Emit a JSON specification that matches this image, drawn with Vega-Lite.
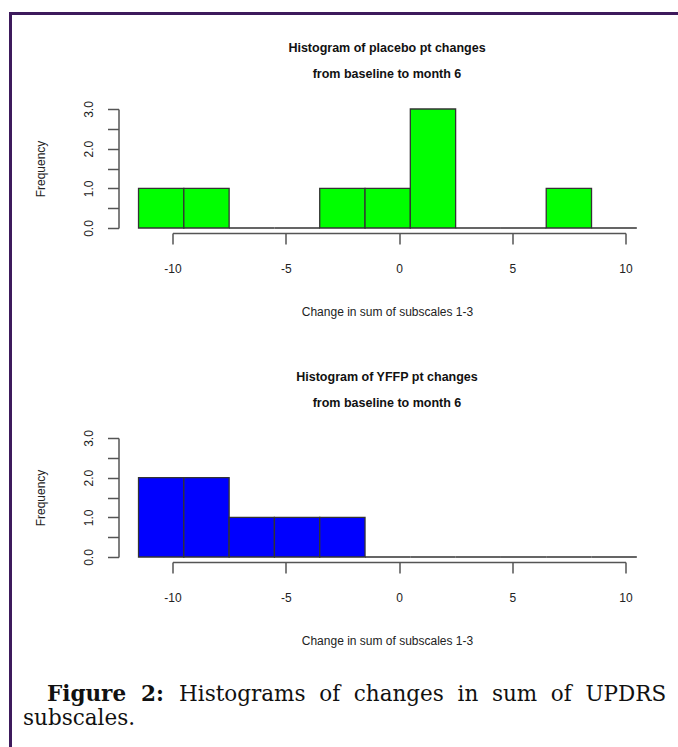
{
  "$schema": "https://vega.github.io/schema/vega-lite/v6.json",
  "background": "white",
  "padding": {"left": 7, "top": 10, "right": 0, "bottom": 0},
  "bounds": "flush",
  "spacing": 0,
  "config": {
    "view": {"stroke": null},
    "font": "Liberation Sans",
    "axis": {
      "grid": false,
      "domainColor": "#555555",
      "tickColor": "#555555",
      "domainWidth": 1.5,
      "tickWidth": 1.5,
      "tickSize": 11,
      "labelFont": "Liberation Sans",
      "labelFontSize": 12,
      "labelColor": "#222222",
      "labelFlush": false,
      "labelOverlap": false,
      "titleFont": "Liberation Sans",
      "titleFontSize": 12,
      "titleFontWeight": "normal",
      "titleColor": "#222222"
    },
    "title": {
      "font": "Liberation Sans",
      "fontSize": 12.5,
      "fontWeight": "bold",
      "color": "#111111",
      "lineHeight": 26,
      "anchor": "middle",
      "baseline": "bottom",
      "offset": 20
    }
  },
  "vconcat": [
    {
      "width": 671,
      "height": 3,
      "view": {"fill": "#3d1a5c", "stroke": null},
      "data": {"values": [{}]},
      "mark": {"type": "point", "opacity": 0},
      "encoding": {}
    },
    {
      "bounds": "flush",
      "spacing": 160.5,
      "hconcat": [
        {
          "width": 3,
          "height": 734,
          "view": {"fill": "#3d1a5c", "stroke": null},
          "data": {"values": [{}]},
          "mark": {"type": "point", "opacity": 0},
          "encoding": {}
        },
        {
          "bounds": "flush",
          "spacing": 0,
          "vconcat": [
            {
              "width": 453,
              "height": 94,
              "data": {"values": [{}]},
              "mark": {"type": "point", "opacity": 0},
              "encoding": {}
            },
            {
              "bounds": "flush",
              "spacing": 210,
              "vconcat": [
                {
                  "width": 453,
                  "height": 119,
                  "title": {"text": ["Histogram of placebo pt changes", "from baseline to month 6"], "dx": -12},
                  "data": {"values": [
                    {"bin_start": -11.5, "bin_end": -9.5, "count": 1},
                    {"bin_start": -9.5, "bin_end": -7.5, "count": 1},
                    {"bin_start": -7.5, "bin_end": -5.5, "count": 0},
                    {"bin_start": -5.5, "bin_end": -3.5, "count": 0},
                    {"bin_start": -3.5, "bin_end": -1.5, "count": 1},
                    {"bin_start": -1.5, "bin_end": 0.5, "count": 1},
                    {"bin_start": 0.5, "bin_end": 2.5, "count": 3},
                    {"bin_start": 2.5, "bin_end": 4.5, "count": 0},
                    {"bin_start": 4.5, "bin_end": 6.5, "count": 0},
                    {"bin_start": 6.5, "bin_end": 8.5, "count": 1},
                    {"bin_start": 8.5, "bin_end": 10.5, "count": 0}
                  ]},
                  "mark": {"type": "rect", "fill": "#00ff00", "stroke": "#333333", "strokeWidth": 1.3},
                  "encoding": {
                    "x": {
                      "field": "bin_start", "type": "quantitative",
                      "scale": {"domain": [-10, 10], "nice": false},
                      "axis": {
                        "title": "Change in sum of subscales 1-3",
                        "values": [-10, -5, 0, 5, 10],
                        "labelExpr": "'' + datum.value",
                        "offset": 5,
                        "labelBaseline": "alphabetic",
                        "labelPadding": 28,
                        "titleX": 214.5,
                        "titleY": 82,
                        "titleBaseline": "alphabetic",
                        "titleAlign": "center"
                      }
                    },
                    "x2": {"field": "bin_end"},
                    "y": {
                      "field": "count", "type": "quantitative",
                      "scale": {"domain": [0, 3], "nice": false},
                      "axis": {
                        "title": "Frequency",
                        "values": [0, 0.5, 1, 1.5, 2, 2.5, 3],
                        "labelExpr": "datum.value % 1 == 0 ? format(datum.value, '.1f') : ''",
                        "offset": 54,
                        "labelAngle": 270,
                        "labelAlign": "center",
                        "labelBaseline": "alphabetic",
                        "labelPadding": 15,
                        "titleAngle": 270,
                        "titleX": -74,
                        "titleY": 59.5,
                        "titleBaseline": "alphabetic",
                        "titleAlign": "center"
                      }
                    },
                    "y2": {"datum": 0}
                  }
                },
                {
                  "bounds": "flush",
                  "spacing": 100,
                  "vconcat": [
                    {
                      "width": 453,
                      "height": 119,
                      "title": {"text": ["Histogram of YFFP pt changes", "from baseline to month 6"], "dx": -12},
                      "data": {"values": [
                        {"bin_start": -11.5, "bin_end": -9.5, "count": 2},
                        {"bin_start": -9.5, "bin_end": -7.5, "count": 2},
                        {"bin_start": -7.5, "bin_end": -5.5, "count": 1},
                        {"bin_start": -5.5, "bin_end": -3.5, "count": 1},
                        {"bin_start": -3.5, "bin_end": -1.5, "count": 1},
                        {"bin_start": -1.5, "bin_end": 0.5, "count": 0},
                        {"bin_start": 0.5, "bin_end": 2.5, "count": 0},
                        {"bin_start": 2.5, "bin_end": 4.5, "count": 0},
                        {"bin_start": 4.5, "bin_end": 6.5, "count": 0},
                        {"bin_start": 6.5, "bin_end": 8.5, "count": 0},
                        {"bin_start": 8.5, "bin_end": 10.5, "count": 0}
                      ]},
                      "mark": {"type": "rect", "fill": "#0000ff", "stroke": "#333333", "strokeWidth": 1.3},
                      "encoding": {
                        "x": {
                          "field": "bin_start", "type": "quantitative",
                          "scale": {"domain": [-10, 10], "nice": false},
                          "axis": {
                            "title": "Change in sum of subscales 1-3",
                            "values": [-10, -5, 0, 5, 10],
                            "labelExpr": "'' + datum.value",
                            "offset": 5,
                            "labelBaseline": "alphabetic",
                            "labelPadding": 28,
                            "titleX": 214.5,
                            "titleY": 82,
                            "titleBaseline": "alphabetic",
                            "titleAlign": "center"
                          }
                        },
                        "x2": {"field": "bin_end"},
                        "y": {
                          "field": "count", "type": "quantitative",
                          "scale": {"domain": [0, 3], "nice": false},
                          "axis": {
                            "title": "Frequency",
                            "values": [0, 0.5, 1, 1.5, 2, 2.5, 3],
                            "labelExpr": "datum.value % 1 == 0 ? format(datum.value, '.1f') : ''",
                            "offset": 54,
                            "labelAngle": 270,
                            "labelAlign": "center",
                            "labelBaseline": "alphabetic",
                            "labelPadding": 15,
                            "titleAngle": 270,
                            "titleX": -74,
                            "titleY": 59.5,
                            "titleBaseline": "alphabetic",
                            "titleAlign": "center"
                          }
                        },
                        "y2": {"datum": 0}
                      }
                    },
                    {
                      "width": 453,
                      "height": 1,
                      "layer": [
                        {
                          "data": {"values": [{"caption": "Figure\u00a0 2:"}]},
                          "mark": {"type": "text", "font": "DejaVu Serif", "fontSize": 21.5, "fontWeight": "bold", "color": "#111111", "align": "left", "baseline": "alphabetic", "x": -125.5, "y": 44},
                          "encoding": {"text": {"field": "caption"}}
                        },
                        {
                          "data": {"values": [{"caption": "Histograms\u00a0 of\u00a0 changes\u00a0 in\u00a0 sum\u00a0 of\u00a0 UPDRS"}]},
                          "mark": {"type": "text", "font": "DejaVu Serif", "fontSize": 21.5, "fontWeight": "normal", "color": "#111111", "align": "left", "baseline": "alphabetic", "x": 6.5, "y": 44},
                          "encoding": {"text": {"field": "caption"}}
                        },
                        {
                          "data": {"values": [{"caption": "subscales."}]},
                          "mark": {"type": "text", "font": "DejaVu Serif", "fontSize": 21.5, "fontWeight": "normal", "color": "#111111", "align": "left", "baseline": "alphabetic", "x": -149.5, "y": 68.3},
                          "encoding": {"text": {"field": "caption"}}
                        }
                      ]
                    }
                  ]
                }
              ]
            }
          ]
        }
      ]
    }
  ]
}
